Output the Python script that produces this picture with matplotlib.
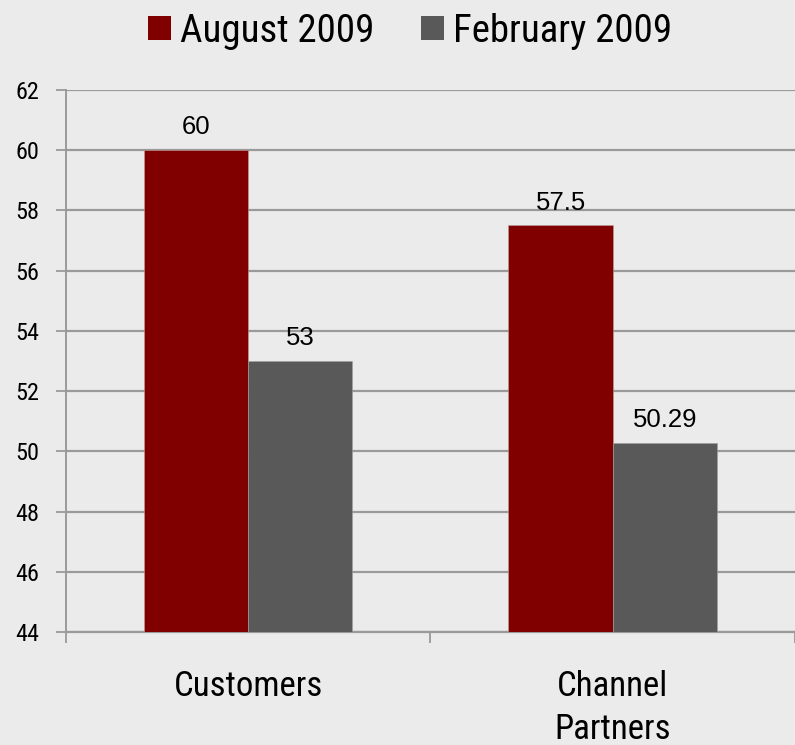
import matplotlib
matplotlib.use("Agg")
import matplotlib.pyplot as plt
from matplotlib import font_manager
from matplotlib.patches import Patch
import numpy as np

categories = ["Customers", "Channel\nPartners"]
series_names = ["August 2009", "February 2009"]
august = [60, 57.5]
february = [53, 50.29]
august_labels = ["60", "57.5"]
february_labels = ["53", "50.29"]
yticks = [44, 46, 48, 50, 52, 54, 56, 58, 60, 62]

names = {f.name for f in font_manager.fontManager.ttflist}
narrow = None
for cand in ["Liberation Sans Narrow", "Arial Narrow", "Roboto Condensed", "DejaVu Sans Condensed", "Open Sans Condensed"]:
    if cand in names:
        narrow = cand
        break
narrow_kw = {"family": narrow} if narrow else {"family": "Roboto", "stretch": "condensed"}

BG = "#EBEBEB"
RED = "#800000"
GRAY = "#595959"
GRID = "#9a9a9a"

fig = plt.figure(figsize=(7.95, 7.45), dpi=100, facecolor=BG)
W, H = 795, 745
left, right, top, bottom = 65.8, 795, 90, 632
ax = fig.add_axes([left / W, 1 - bottom / H, (right - left) / W, (bottom - top) / H])
ax.set_facecolor(BG)

x = np.arange(len(categories))
bw = 105.3 / 368.3
ax.bar(x - bw / 2, [v - 44 for v in august], bw, bottom=44, color=RED, edgecolor="#c0a0a0", linewidth=0.4, zorder=3)
ax.bar(x + bw / 2, [v - 44 for v in february], bw, bottom=44, color=GRAY, edgecolor="#a0a0a0", linewidth=0.4, zorder=3)

for xi, v, lab in zip(x - bw / 2, august, august_labels):
    ax.annotate(lab, (xi, v), xytext=(0, 11.5), textcoords="offset points", ha="center", va="baseline",
                fontsize=18.5, family="Liberation Sans", color="black")
for xi, v, lab in zip(x + bw / 2, february, february_labels):
    ax.annotate(lab, (xi, v), xytext=(0, 11.5), textcoords="offset points", ha="center", va="baseline",
                fontsize=18.5, family="Liberation Sans", color="black")

ax.set_ylim(44, 62)
ax.set_xlim(-0.5, 1.5 - (802 - 795) / 368.3)
ax.set_yticks(yticks)
ax.set_yticklabels([str(t) for t in yticks], fontsize=17.5, **narrow_kw)
ax.yaxis.grid(True, color=GRID, linewidth=1.6, zorder=0)
ax.set_axisbelow(True)

ax.set_xticks([-0.5, 0.5, 1.5])
ax.set_xticklabels([])
ax.set_xticks(x, minor=True)
ax.set_xticklabels(categories, minor=True, fontsize=25, linespacing=1.42, **narrow_kw)
ax.tick_params(axis="x", which="minor", length=0, pad=27)
ax.tick_params(axis="x", which="major", length=8, width=1.3, color=GRID, direction="out")
ax.tick_params(axis="y", length=7, width=1.3, color=GRID, pad=12)

for s in ["top", "right"]:
    ax.spines[s].set_visible(False)
ax.spines["left"].set_color(GRID)
ax.spines["left"].set_linewidth(1.4)
ax.spines["bottom"].set_color(GRID)
ax.spines["bottom"].set_linewidth(1.6)

handles = [Patch(facecolor=RED, edgecolor="none"), Patch(facecolor=GRAY, edgecolor="none")]
fig.legend(handles, series_names, loc="center", bbox_to_anchor=(0.525 - 7 / W, 1 - 31 / H), ncol=2,
           frameon=False, prop=dict(size=28, **narrow_kw), handlelength=0.57, handleheight=0.57,
           handletextpad=0.25, columnspacing=1.2)

fig.savefig("out.png", dpi=100, facecolor=BG)
